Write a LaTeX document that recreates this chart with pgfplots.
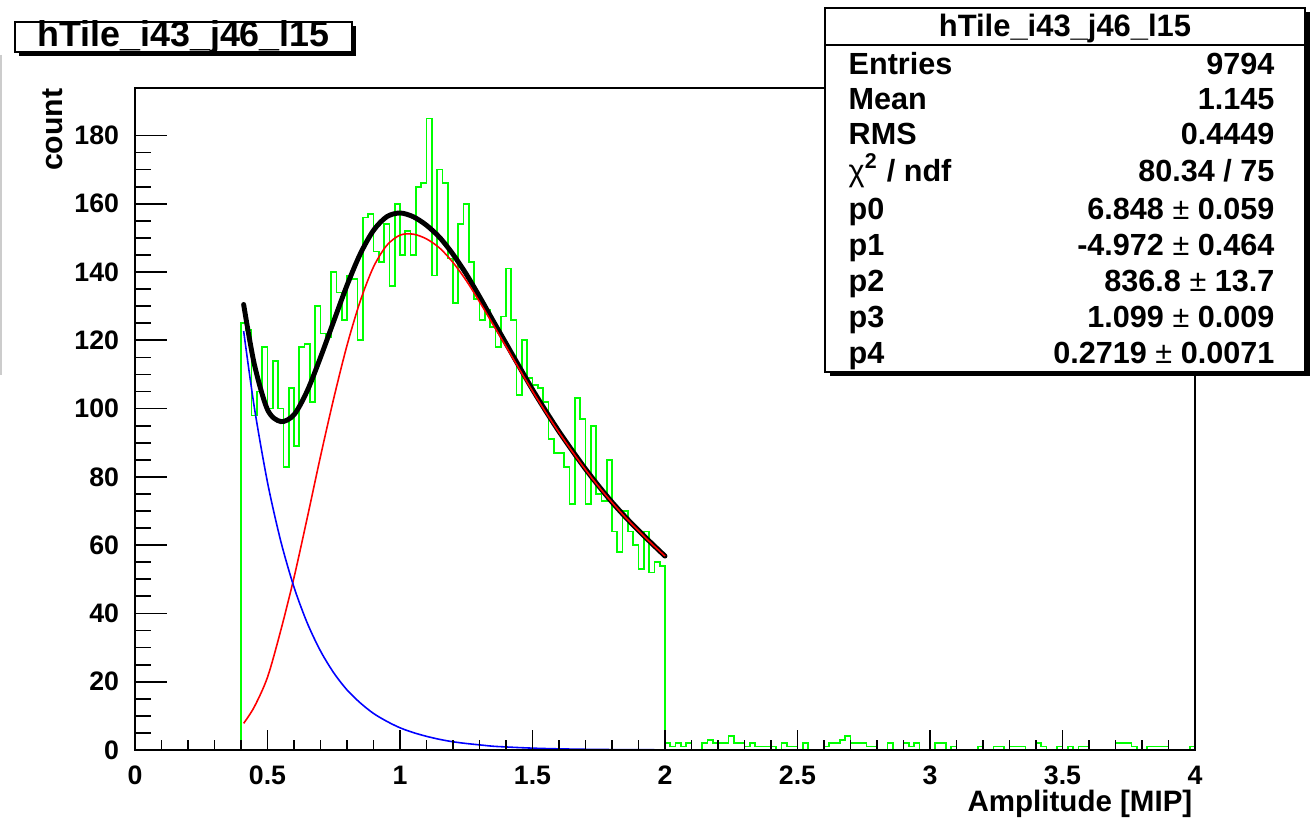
\documentclass[border=0pt]{standalone}
\usepackage{fontspec}
\setmainfont{Liberation Sans}
\usepackage{pgfplots}
\pgfplotsset{compat=1.18}
\definecolor{hgreen}{RGB}{0,255,0}
\definecolor{fred}{RGB}{255,0,0}
\definecolor{fblue}{RGB}{0,0,255}
\pgfplotstableread{
x y
0.40 0
0.40 125
0.42 123
0.44 98
0.46 105
0.48 118
0.50 100
0.52 114
0.54 100
0.56 83
0.58 106
0.60 89
0.62 118
0.64 119
0.66 102
0.68 130
0.70 122
0.72 121
0.74 140
0.76 134
0.78 126
0.80 139
0.82 138
0.84 120
0.86 156
0.88 157
0.90 146
0.92 143
0.94 154
0.96 136
0.98 160
1.00 145
1.02 152
1.04 145
1.06 165
1.08 166
1.10 185
1.12 139
1.14 170
1.16 166
1.18 144
1.20 131
1.22 154
1.24 160
1.26 143
1.28 132
1.30 126
1.32 129
1.34 124
1.36 118
1.38 127
1.40 141
1.42 126
1.44 104
1.46 120
1.48 109
1.50 107
1.52 106
1.54 102
1.56 91
1.58 87
1.60 87
1.62 83
1.64 72
1.66 103
1.68 97
1.70 72
1.72 95
1.74 75
1.76 73
1.78 85
1.80 64
1.82 58
1.84 70
1.86 64
1.88 60
1.90 53
1.92 64
1.94 52
1.96 55
1.98 54
2.00 2
2.02 1
2.04 2
2.06 1
2.08 2
2.10 0
2.12 0
2.14 2
2.16 3
2.18 2
2.20 2
2.22 2
2.24 4
2.26 2
2.28 2
2.30 1
2.32 2
2.34 1
2.36 1
2.38 1
2.40 1
2.42 0
2.44 2
2.46 1
2.48 1
2.50 0
2.52 2
2.54 0
2.56 0
2.58 0
2.60 1
2.62 2
2.64 2
2.66 3
2.68 4
2.70 2
2.72 2
2.74 2
2.76 1
2.78 1
2.80 0
2.82 0
2.84 2
2.86 0
2.88 0
2.90 2
2.92 1
2.94 2
2.96 0
2.98 0
3.00 0
3.02 2
3.04 2
3.06 0
3.08 1
3.10 0
3.12 0
3.14 0
3.16 0
3.18 1
3.20 0
3.22 0
3.24 1
3.26 1
3.28 0
3.30 1
3.32 1
3.34 1
3.36 0
3.38 0
3.40 2
3.42 1
3.44 0
3.46 0
3.48 1
3.50 0
3.52 1
3.54 0
3.56 1
3.58 1
3.60 0
3.62 0
3.64 0
3.66 0
3.68 0
3.70 2
3.72 2
3.74 2
3.76 1
3.78 0
3.80 0
3.82 1
3.84 1
3.86 1
3.88 1
3.90 0
3.92 0
3.94 0
3.96 0
3.98 1
4.00 1
}\histdata
\pgfplotstableread{
x total red blue
0.41 130.5 7.8 122.7
0.45 113.1 12.6 100.5
0.50 99.7 21.3 78.4
0.55 96.2 35.0 61.2
0.60 98.2 50.5 47.7
0.65 105.2 68.0 37.2
0.70 115.0 86.0 29.0
0.75 125.6 103.0 22.6
0.80 136.1 118.5 17.6
0.85 145.3 131.5 13.8
0.90 152.2 141.5 10.7
0.95 156.2 147.8 8.4
1.00 157.3 150.8 6.5
1.05 156.2 151.1 5.1
1.10 153.7 149.7 4.0
1.15 150.1 147.0 3.1
1.20 145.2 142.8 2.4
1.25 139.4 137.5 1.9
1.30 132.8 131.3 1.5
1.35 125.9 124.8 1.1
1.40 119.1 118.2 0.89
1.45 112.3 111.6 0.70
1.50 105.6 105.1 0.54
1.55 99.3 98.9 0.42
1.60 93.3 93.0 0.33
1.65 87.7 87.4 0.26
1.70 82.3 82.1 0.20
1.75 77.3 77.1 0.16
1.80 72.6 72.5 0.12
1.85 68.3 68.2 0.095
1.90 64.3 64.2 0.074
1.95 60.5 60.4 0.058
2.00 56.8 56.8 0.045
}\fitdata
\begin{document}
\begin{tikzpicture}
\path[use as bounding box] (-1.35cm,-0.68cm) rectangle (11.80cm,7.50cm);
\draw[black!20, line width=0.3pt] (-1.34cm,6.95cm) -- (-1.34cm,3.75cm);
% main axis: frame, x ticks, data
\begin{axis}[at={(0,0)}, anchor=south west, scale only axis,
  width=10.6cm, height=6.623cm,
  xmin=0, xmax=4, ymin=0, ymax=194,
  axis on top,
  axis line style={line width=0.5pt},
  xtick={0,0.5,1,1.5,2,2.5,3,3.5,4},
  xticklabels={0,0.5,1,1.5,2,2.5,3,3.5,4},
  minor x tick num=4,
  ytick=\empty,
  tick pos=left, tick align=inside,
  major tick length=0.2cm, minor tick length=0.1cm,
  tick style={black, line width=0.5pt},
  xticklabel style={font=\fontsize{7.6}{9}\selectfont\bfseries, yshift=-1pt},
  /pgf/number format/assume math mode=true,
  clip=false]
\addplot[const plot, draw=hgreen, line width=0.5pt, mark=none] table[x=x,y=y] {\histdata};
\addplot[smooth, draw=black, line width=1.4pt, line cap=round, mark=none] table[x=x,y=total] {\fitdata};
\addplot[smooth, draw=fred, line width=0.45pt, mark=none] table[x=x,y=red] {\fitdata};
\addplot[smooth, draw=fblue, line width=0.45pt, mark=none] table[x=x,y=blue] {\fitdata};
\end{axis}
% second axis: y ticks (longer, as in ROOT)
\begin{axis}[at={(0,0)}, anchor=south west, scale only axis,
  width=10.6cm, height=6.623cm,
  xmin=0, xmax=4, ymin=0, ymax=194,
  axis line style={draw=none},
  xtick=\empty,
  ytick={0,20,40,60,80,100,120,140,160,180},
  minor y tick num=3,
  tick pos=left, tick align=inside,
  major tick length=0.32cm, minor tick length=0.16cm,
  tick style={black, line width=0.5pt},
  yticklabel style={font=\fontsize{7.6}{9}\selectfont\bfseries, xshift=-1pt},
  /pgf/number format/assume math mode=true]
\end{axis}
% axis titles
\node[rotate=90, anchor=base east, font=\fontsize{8.6}{10}\selectfont\bfseries, inner sep=0pt] at (-0.72cm,6.62cm) {count};
\node[anchor=base east, font=\fontsize{8.4}{10}\selectfont\bfseries, inner sep=0pt] at (10.58cm,-0.615cm) {Amplitude [MIP]};
% title box
\fill[black] (-1.155cm,6.935cm) rectangle (2.215cm,7.235cm);
\draw[fill=white, line width=0.5pt] (-1.20cm,6.98cm) rectangle (2.17cm,7.28cm);
\node[font=\fontsize{10.2}{12}\selectfont\bfseries, inner sep=0pt] at (0.485cm,7.13cm) {hTile\_i43\_j46\_l15};
% stats box
\fill[black] (6.945cm,3.735cm) rectangle (11.745cm,7.375cm);
\draw[fill=white, line width=0.5pt] (6.90cm,3.78cm) rectangle (11.70cm,7.42cm);
\draw[line width=0.5pt] (6.90cm,7.05cm) -- (11.70cm,7.05cm);
\node[font=\fontsize{8.8}{10}\selectfont\bfseries, anchor=base, inner sep=0pt] at (9.30cm,7.13cm) {hTile\_i43\_j46\_l15};
\begin{scope}[every node/.style={font=\fontsize{8.7}{10}\selectfont\bfseries, inner sep=0pt}]
\node[anchor=base west] at (7.13cm,6.75cm) {Entries};
\node[anchor=base east] at (11.40cm,6.75cm) {9794};
\node[anchor=base west] at (7.13cm,6.40cm) {Mean};
\node[anchor=base east] at (11.40cm,6.40cm) {1.145};
\node[anchor=base west] at (7.13cm,6.05cm) {RMS};
\node[anchor=base east] at (11.40cm,6.05cm) {0.4449};
\node[anchor=base west] at (7.13cm,5.68cm) {{\mdseries χ}\textsuperscript{2} / ndf};
\node[anchor=base east] at (11.40cm,5.68cm) {80.34 / 75};
\node[anchor=base west] at (7.13cm,5.30cm) {p0};
\node[anchor=base east] at (11.40cm,5.30cm) {6.848 {\mdseries ±} 0.059};
\node[anchor=base west] at (7.13cm,4.94cm) {p1};
\node[anchor=base east] at (11.40cm,4.94cm) {-4.972 {\mdseries ±} 0.464};
\node[anchor=base west] at (7.13cm,4.58cm) {p2};
\node[anchor=base east] at (11.40cm,4.58cm) {836.8 {\mdseries ±} 13.7};
\node[anchor=base west] at (7.13cm,4.22cm) {p3};
\node[anchor=base east] at (11.40cm,4.22cm) {1.099 {\mdseries ±} 0.009};
\node[anchor=base west] at (7.13cm,3.86cm) {p4};
\node[anchor=base east] at (11.40cm,3.86cm) {0.2719 {\mdseries ±} 0.0071};
\end{scope}
\end{tikzpicture}
\end{document}
